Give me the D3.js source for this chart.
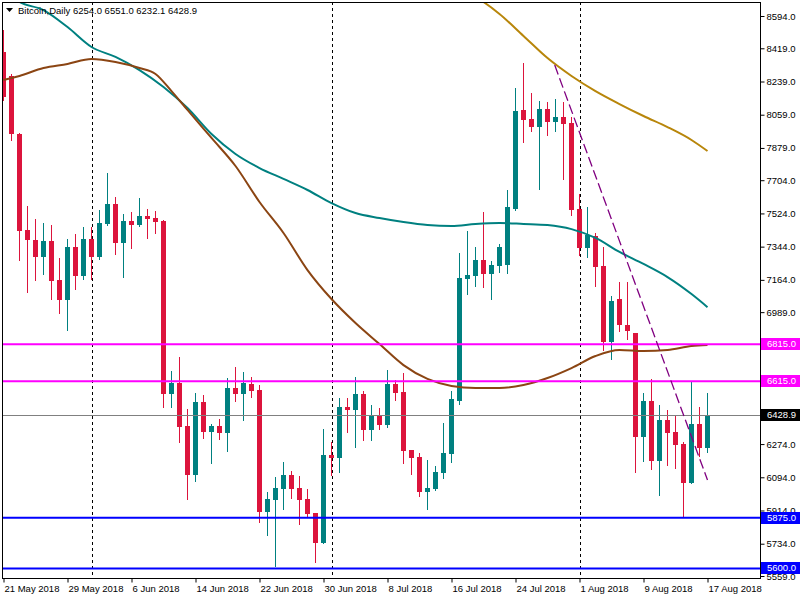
<!DOCTYPE html>
<html><head><meta charset="utf-8">
<script src="https://cdn.jsdelivr.net/npm/d3@7"></script>
<style>
body{margin:0;background:#fff;}
svg{display:block;font-family:"Liberation Sans",Arial,sans-serif;}
</style></head><body>
<svg id="c" width="800" height="600"></svg>
<script>
// ---- data ----
const symbol = "Bitcoin,Daily";
const xTickLabels = ["21 May 2018","29 May 2018","6 Jun 2018","14 Jun 2018","22 Jun 2018","30 Jun 2018","8 Jul 2018","16 Jul 2018","24 Jul 2018","1 Aug 2018","9 Aug 2018","17 Aug 2018"];
const yTicks = [8594,8419,8239,8059,7879,7704,7524,7344,7164,6989,6809,6629,6449,6274,6094,5914,5734,5559];
const open  = [8399,8269,7954,7434,7380,7288,7374,7163,7055,7342,7185,7385,7288,7467,7575,7364,7483,7461,7510,7499,7483,6545,6605,6372,6106,6502,6339,6372,6334,6578,6545,6599,6567,5906,5971,6030,6106,6036,5976,5900,5738,6215,6198,6475,6458,6545,6350,6426,6377,6599,6556,6242,6204,6014,6030,6117,6220,6507,7169,7185,7272,7196,7239,7244,7548,8084,8036,7992,8090,8019,8047,8014,7548,7337,7402,7239,6827,7060,6919,6876,6312,6507,6182,6404,6339,6274,6063,6383,6254.0];
const high  = [8518,8280,7960,7564,7494,7472,7461,7282,7385,7412,7450,7450,7543,7743,7613,7521,7532,7608,7548,7537,7488,6670,6746,6464,6551,6540,6383,6410,6632,6692,6665,6637,6594,6014,6095,6177,6128,6101,6030,5900,6356,6285,6524,6524,6637,6561,6486,6469,6675,6621,6659,6242,6225,6187,6155,6388,6562,7309,7429,7342,7532,7266,7358,7651,8204,8339,8177,8133,8128,8144,8128,8047,7629,7559,7418,7342,7076,7152,7152,6876,6551,6626,6486,6459,6431,6285,6610,6475,6551.0];
const low   = [8139,7922,7272,7098,7163,7196,7060,6984,6892,7114,7169,7169,7277,7461,7304,7179,7336,7456,7391,7418,6475,6475,6285,5976,6074,6307,6171,6301,6236,6507,6404,6529,5851,5781,5613,5922,5981,5841,5878,5635,5738,6106,6122,6339,6258,6296,6296,6356,6366,6513,6171,6112,5992,5922,6025,6090,6177,6491,7087,7131,7125,7060,7206,7201,7542,7911,7971,7656,7949,7971,7710,7515,7299,7288,7131,6784,6735,6887,6843,6122,6182,6139,5998,6160,6144,5878,6063,6209,6232.1];
const close = [8155,7954,7429,7380,7288,7374,7158,7055,7342,7185,7385,7288,7472,7575,7364,7483,7461,7510,7494,7477,6545,6605,6366,6106,6502,6339,6372,6334,6578,6545,6605,6562,5906,5976,6036,6106,6030,5971,5895,5738,6215,6198,6475,6458,6545,6350,6426,6377,6599,6551,6236,6198,6014,6036,6122,6225,6518,7174,7190,7272,7196,7244,7342,7559,8079,8030,7992,8090,8019,8047,8009,7542,7337,7407,7234,6827,7049,6919,6887,6312,6507,6182,6404,6334,6269,6063,6383,6253,6428.9];
// moving averages read at bar indices [bar, value]
const maTeal  = [[0,8735],[2,8670],[5,8626],[8,8534],[11,8426],[14,8372],[17,8301],[20,8209],[23,8095],[26,7954],[29,7846],[32,7770],[35,7711],[38,7651],[41,7580],[44,7526],[47,7499],[50,7477],[53,7461],[56,7456],[59,7467],[62,7472],[65,7467],[68,7461],[71,7439],[74,7391],[77,7315],[80,7250],[83,7179],[86,7087],[88,7016]];
const maBrown = [[0,8247],[2,8269],[5,8312],[8,8334],[11,8361],[14,8345],[17,8312],[19,8280],[21,8187],[23,8085],[26,7933],[29,7781],[32,7586],[35,7418],[38,7217],[41,7060],[44,6930],[47,6816],[50,6702],[53,6627],[56,6589],[59,6578],[62,6578],[65,6594],[68,6632],[71,6686],[74,6751],[77,6784],[80,6778],[83,6784],[86,6805],[88,6811]];
const maGold  = [[59,8697],[60,8670],[62,8605],[65,8486],[68,8366],[71,8269],[74,8187],[77,8117],[80,8052],[83,7992],[86,7922],[88,7862]];
const levelsMagenta = [6815, 6615];
const levelsBlue = [5875, 5600];
const bid = 6428.9;
const trendline = [[68.9, 8328],[88, 6079]];
const separators = [11, 41, 72]; // 1 Jun, 1 Jul, 1 Aug

// ---- drawing ----
const svg = d3.select("#c");
const L = 2, T = 2, R = 760, B = 578;
const FS = 9.5;
const x = d3.scaleLinear().domain([0, 88]).range([3.5, 707.5]);
const y = d3.scaleLinear().domain([5559, 8594]).range([576, 16]);
const COL_UP = "#008080", COL_DN = "#DC143C";

svg.append("defs").append("clipPath").attr("id","clip")
  .append("rect").attr("x",L+0.5).attr("y",T+0.5).attr("width",R-L-0.5).attr("height",B-T-0.5);
const plot = svg.append("g").attr("clip-path","url(#clip)");

// separators
plot.selectAll("line.sep").data(separators).join("line")
  .attr("x1",d=>Math.round(x(d))+0.5).attr("x2",d=>Math.round(x(d))+0.5)
  .attr("y1",T).attr("y2",B).attr("stroke","#000").attr("stroke-dasharray","3,3");

// candles
const bars = d3.range(open.length).map(i=>({i,o:open[i],h:high[i],l:low[i],c:close[i]}));
const cg = plot.append("g").attr("shape-rendering","crispEdges");
cg.selectAll("line.w").data(bars).join("line")
  .attr("x1",d=>Math.floor(x(d.i))+0.5).attr("x2",d=>Math.floor(x(d.i))+0.5)
  .attr("y1",d=>Math.round(y(d.h))).attr("y2",d=>Math.round(y(d.l))+1)
  .attr("stroke",d=>d.c>=d.o?COL_UP:COL_DN).attr("stroke-width",1);
cg.selectAll("rect.b").data(bars).join("rect")
  .attr("x",d=>Math.floor(x(d.i))-2).attr("width",5)
  .attr("y",d=>Math.round(y(Math.max(d.o,d.c))))
  .attr("height",d=>Math.max(1,Math.round(y(Math.min(d.o,d.c)))-Math.round(y(Math.max(d.o,d.c)))))
  .attr("fill",d=>d.c>=d.o?COL_UP:COL_DN);

// moving averages
const line = d3.line().x(d=>x(d[0])).y(d=>y(d[1])).curve(d3.curveMonotoneX);
[[maTeal,"#008080"],[maBrown,"#8B4513"],[maGold,"#B8860B"]].forEach(([d,c])=>{
  plot.append("path").attr("d",line(d)).attr("fill","none").attr("stroke",c).attr("stroke-width",2);
});

// horizontal levels
plot.append("line").attr("x1",L).attr("x2",R).attr("y1",Math.round(y(bid))+0.5).attr("y2",Math.round(y(bid))+0.5)
  .attr("stroke","#808080").attr("stroke-width",1);
levelsMagenta.forEach(v=>plot.append("line").attr("x1",L).attr("x2",R).attr("y1",y(v)).attr("y2",y(v)).attr("stroke","#FF00FF").attr("stroke-width",2));
levelsBlue.forEach(v=>plot.append("line").attr("x1",L).attr("x2",R).attr("y1",y(v)).attr("y2",y(v)).attr("stroke","#0000FF").attr("stroke-width",2));

// trendline
plot.append("line").attr("x1",x(trendline[0][0])).attr("y1",y(trendline[0][1]))
  .attr("x2",x(trendline[1][0])).attr("y2",y(trendline[1][1]))
  .attr("stroke","#800080").attr("stroke-width",1.3).attr("stroke-dasharray","10,4");

// frame
svg.append("rect").attr("x",L+0.5).attr("y",T+0.5).attr("width",R-L).attr("height",B-T)
  .attr("fill","none").attr("stroke","#000").attr("shape-rendering","crispEdges");

// y axis
const yAxis = d3.axisRight(y).tickValues(yTicks).tickSize(4).tickPadding(2).tickFormat(d=>d.toFixed(1));
const gy = svg.append("g").attr("transform",`translate(${R+0.5},0)`).call(yAxis);
gy.select(".domain").remove();
gy.selectAll("text").attr("font-size",FS).attr("font-family","Liberation Sans, Arial, sans-serif").attr("fill","#000");

// x axis
const xAxis = d3.axisBottom(x).tickValues(d3.range(0,89,8)).tickSize(4).tickPadding(3).tickFormat(i=>xTickLabels[i/8]);
const gx = svg.append("g").attr("transform",`translate(0,${B+0.5})`).call(xAxis);
gx.select(".domain").remove();
gx.selectAll("text").attr("text-anchor","start").attr("dx","0.5").attr("font-size",FS).attr("font-family","Liberation Sans, Arial, sans-serif").attr("fill","#000");

// price labels (drawn over the axis labels, as in the terminal)
function priceLabel(v, bg){
  const g = svg.append("g").attr("transform",`translate(${R+1},${Math.round(y(v))})`);
  g.append("rect").attr("x",0).attr("y",-6).attr("width",39).attr("height",12).attr("fill",bg);
  g.append("text").attr("x",6).attr("y",0).attr("dy","0.35em").attr("font-size",FS).attr("fill","#fff").text(v.toFixed(1));
}
levelsMagenta.forEach(v=>priceLabel(v,"#FF00FF"));
levelsBlue.forEach(v=>priceLabel(v,"#0000FF"));
priceLabel(bid,"#000");

// title
const tg = svg.append("g");
tg.append("path").attr("d","M6,8 L13,8 L9.5,12 Z").attr("fill","#000");
tg.append("text").attr("x",18).attr("y",14).attr("font-size",FS).attr("fill","#000")
  .text(`${symbol}  ${open[88].toFixed(1)} ${high[88].toFixed(1)} ${low[88].toFixed(1)} ${close[88].toFixed(1)}`);
</script>
</body></html>
